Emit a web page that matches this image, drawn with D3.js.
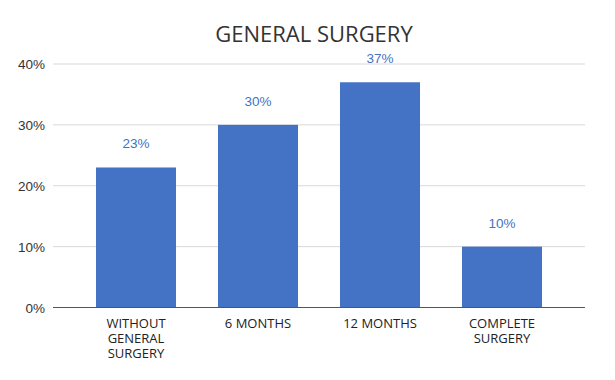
<!DOCTYPE html>
<html>
<head>
<meta charset="utf-8">
<script src="https://cdn.jsdelivr.net/npm/d3@7"></script>
<style>
  body { margin: 0; background: #fff; }
  svg { display: block; }
</style>
</head>
<body>
<div id="chart"></div>
<script>
// data
const categories = [["WITHOUT", "GENERAL", "SURGERY"], ["6 MONTHS"], ["12 MONTHS"], ["COMPLETE", "SURGERY"]];
const values = [23, 30, 37, 10];
const yTicks = [0, 10, 20, 30, 40];
const title = "GENERAL SURGERY";

const width = 615, height = 380;
const barColor = "#4472c4";

let svg = d3.select("#chart").append("svg")
    .attr("width", width)
    .attr("height", height);

let keys = categories.map(c => c.join(" "));

let x = d3.scaleBand()
    .domain(keys)
    .range([75, 563])
    .paddingInner(0.344)
    .paddingOuter(0.172);

let y = d3.scaleLinear()
    .domain([0, 40])
    .range([307.5, 64]);

// gridlines
svg.append("g")
    .selectAll("line")
    .data(yTicks.filter(d => d > 0))
    .enter()
    .append("line")
    .attr("x1", 53)
    .attr("x2", 585)
    .attr("y1", d => y(d))
    .attr("y2", d => y(d))
    .attr("stroke", "#d9d9d9")
    .attr("stroke-width", 1);

// y tick labels
svg.append("g")
    .selectAll("text")
    .data(yTicks)
    .enter()
    .append("text")
    .attr("x", 45)
    .attr("y", d => y(d) + 5)
    .attr("text-anchor", "end")
    .attr("font-family", "Liberation Sans, Arial, sans-serif")
    .attr("font-size", 13.5)
    .attr("fill", "#333")
    .text(d => d + "%");

// bars
svg.append("g")
    .selectAll("rect")
    .data(values)
    .enter()
    .append("rect")
    .attr("x", (d, i) => x(keys[i]))
    .attr("width", x.bandwidth())
    .attr("y", d => y(d))
    .attr("height", d => y(0) - y(d))
    .attr("fill", barColor);

// value labels
svg.append("g")
    .selectAll("text")
    .data(values)
    .enter()
    .append("text")
    .attr("x", (d, i) => x(keys[i]) + x.bandwidth() / 2)
    .attr("y", d => y(d) - 19)
    .attr("text-anchor", "middle")
    .attr("font-family", "Liberation Sans, Arial, sans-serif")
    .attr("font-size", 13.5)
    .attr("fill", barColor)
    .text(d => d + "%");

// baseline
svg.append("line")
    .attr("x1", 53)
    .attr("x2", 585)
    .attr("y1", y(0))
    .attr("y2", y(0))
    .attr("stroke", "#555")
    .attr("stroke-width", 1);

// category labels
let cat = svg.append("g")
    .selectAll("text")
    .data(categories)
    .enter()
    .append("text")
    .attr("x", (d, i) => x(keys[i]) + x.bandwidth() / 2)
    .attr("y", 328)
    .attr("text-anchor", "middle")
    .attr("font-family", "Open Sans, sans-serif")
    .attr("font-size", 13)
    .attr("fill", "#222");

cat.selectAll("tspan")
    .data(d => d)
    .enter()
    .append("tspan")
    .attr("x", function () { return this.parentNode.getAttribute("x"); })
    .attr("dy", (d, i) => i === 0 ? 0 : 15)
    .text(d => d);

// title
svg.append("text")
    .attr("x", 314)
    .attr("y", 42)
    .attr("text-anchor", "middle")
    .attr("font-family", "Open Sans, sans-serif")
    .attr("font-size", 22)
    .attr("fill", "#333")
    .text(title);
</script>
</body>
</html>
